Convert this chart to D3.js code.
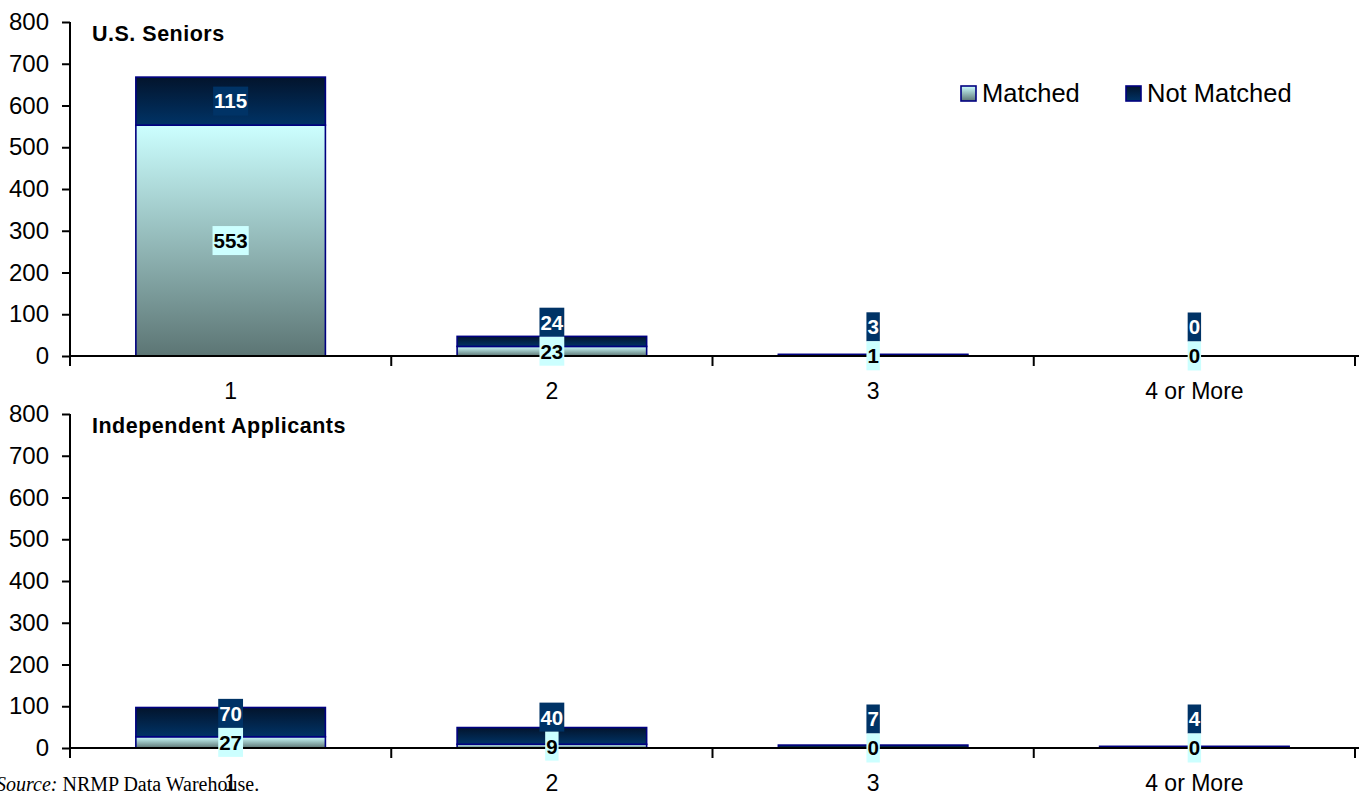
<!DOCTYPE html>
<html>
<head>
<meta charset="utf-8">
<script src="https://cdn.jsdelivr.net/npm/d3@7/dist/d3.min.js"></script>
<style>
html, body { margin: 0; padding: 0; background: #fff; }
svg { display: block; }
</style>
</head>
<body>
<svg id="chart" width="1359" height="794"></svg>
<script>
const categories = ["1", "2", "3", "4 or More"];
const seniorsMatched = [553, 23, 1, 0];
const seniorsNotMatched = [115, 24, 3, 0];
const independentMatched = [27, 9, 0, 0];
const independentNotMatched = [70, 40, 7, 4];
const yTicks = [0, 100, 200, 300, 400, 500, 600, 700, 800];
const seriesNames = ["Matched", "Not Matched"];
const panelTitles = ["U.S. Seniors", "Independent Applicants"];

const FONT = "'Liberation Sans', Arial, sans-serif";
const svg = d3.select("#chart");

const defs = svg.append("defs");
const gM = defs.append("linearGradient").attr("id", "gradM").attr("x1", 0).attr("y1", 0).attr("x2", 0).attr("y2", 1);
gM.append("stop").attr("offset", "0%").attr("stop-color", "#CCFFFF");
gM.append("stop").attr("offset", "100%").attr("stop-color", "#5C7574");
const gN = defs.append("linearGradient").attr("id", "gradN").attr("x1", 0).attr("y1", 0).attr("x2", 0).attr("y2", 1);
gN.append("stop").attr("offset", "0%").attr("stop-color", "#03142C");
gN.append("stop").attr("offset", "100%").attr("stop-color", "#003366");

const x = d3.scaleBand().domain(categories).range([70, 1355]).padding(0);
const barW = x.bandwidth() * 0.59;

function drawPanel(top, bottom, matched, notMatched, title) {
  const y = d3.scaleLinear().domain([0, 800]).range([bottom, top]);
  const g = svg.append("g");

  // Bars
  categories.forEach((c, i) => {
    const cx = x(c) + x.bandwidth() / 2;
    const m = matched[i], n = notMatched[i];
    if (m > 0) {
      g.append("rect")
        .attr("x", cx - barW / 2).attr("y", y(m))
        .attr("width", barW).attr("height", y(0) - y(m))
        .attr("fill", "url(#gradM)").attr("stroke", "#000080").attr("stroke-width", 1.6);
    }
    if (n > 0) {
      g.append("rect")
        .attr("x", cx - barW / 2).attr("y", y(m + n))
        .attr("width", barW).attr("height", y(m) - y(m + n))
        .attr("fill", "url(#gradN)").attr("stroke", "#000080").attr("stroke-width", 1.6);
    }
  });

  // Axes
  const yAxis = d3.axisLeft(y).tickValues(yTicks).tickSize(8).tickPadding(13).tickSizeOuter(0);
  const ya = g.append("g").attr("transform", "translate(70,0)").call(yAxis);
  ya.select(".domain").remove();
  ya.selectAll(".tick line").attr("stroke", "#000").attr("stroke-width", 2);
  ya.selectAll(".tick text").attr("font-family", FONT).attr("font-size", 24).attr("fill", "#000");
  g.append("line").attr("x1", 70).attr("x2", 70).attr("y1", top).attr("y2", bottom + 10)
    .attr("stroke", "#000").attr("stroke-width", 2);

  g.append("line").attr("x1", 70).attr("x2", 1359).attr("y1", bottom).attr("y2", bottom)
    .attr("stroke", "#000").attr("stroke-width", 2);
  const bounds = categories.map(c => x(c)).concat([x(categories[categories.length - 1]) + x.bandwidth()]);
  g.selectAll(".xt").data(bounds).enter().append("line")
    .attr("x1", d => d).attr("x2", d => d).attr("y1", bottom).attr("y2", bottom + 10)
    .attr("stroke", "#000").attr("stroke-width", 2);

  const xAxis = d3.axisBottom(x).tickSize(0).tickPadding(27);
  const xa = g.append("g").attr("transform", `translate(0,${bottom})`).call(xAxis);
  xa.select(".domain").remove();
  xa.selectAll(".tick text").attr("font-family", FONT).attr("font-size", 23).attr("fill", "#000");

  // Title
  g.append("text").attr("x", 92).attr("y", top + 19).attr("font-family", FONT)
    .attr("font-size", 21.5).attr("font-weight", "bold").attr("letter-spacing", 0.5)
    .attr("fill", "#000").text(title);

  // Data labels
  const boxH = 29;
  categories.forEach((c, i) => {
    const cx = x(c) + x.bandwidth() / 2;
    const m = matched[i], n = notMatched[i];
    const mCy = (y(0) + y(m)) / 2;
    let nCy = (y(m) + y(m + n)) / 2;
    const mTop = mCy - boxH / 2;
    if (nCy + boxH / 2 > mTop) nCy = mTop - boxH / 2;

    [[n, nCy, "#003366", "#fff"], [m, mCy, "#CCFFFF", "#000"]].forEach(([v, cy, bg, fg]) => {
      const t = g.append("text").attr("x", cx).attr("y", cy).attr("dy", "0.36em")
        .attr("text-anchor", "middle").attr("font-family", FONT).attr("font-size", 20.5)
        .attr("font-weight", "bold").attr("fill", fg).text(v);
      const w = t.node().getComputedTextLength() + 2;
      g.insert("rect", () => t.node()).attr("x", cx - w / 2).attr("y", cy - boxH / 2)
        .attr("width", w).attr("height", boxH).attr("fill", bg);
    });
  });
}

drawPanel(22, 356, seniorsMatched, seniorsNotMatched, panelTitles[0]);
drawPanel(414, 748, independentMatched, independentNotMatched, panelTitles[1]);

// Legend
const legend = svg.append("g");
const legX = [960, 1125];
seriesNames.forEach((s, i) => {
  legend.append("rect").attr("x", legX[i] + 1).attr("y", 86).attr("width", 15).attr("height", 15)
    .attr("fill", i === 0 ? "url(#gradM)" : "url(#gradN)").attr("stroke", "#000080").attr("stroke-width", 1.6);
  legend.append("text").attr("x", legX[i] + 22).attr("y", 102).attr("font-family", FONT)
    .attr("font-size", 25.5).attr("fill", "#000").text(s);
});

// Source note
const src = svg.append("text").attr("x", -4).attr("y", 791)
  .attr("font-family", "'Liberation Serif', 'Times New Roman', serif").attr("font-size", 20).attr("fill", "#000");
src.append("tspan").attr("font-style", "italic").text("Source:");
src.append("tspan").text(" NRMP Data Warehouse.");
</script>
</body>
</html>
